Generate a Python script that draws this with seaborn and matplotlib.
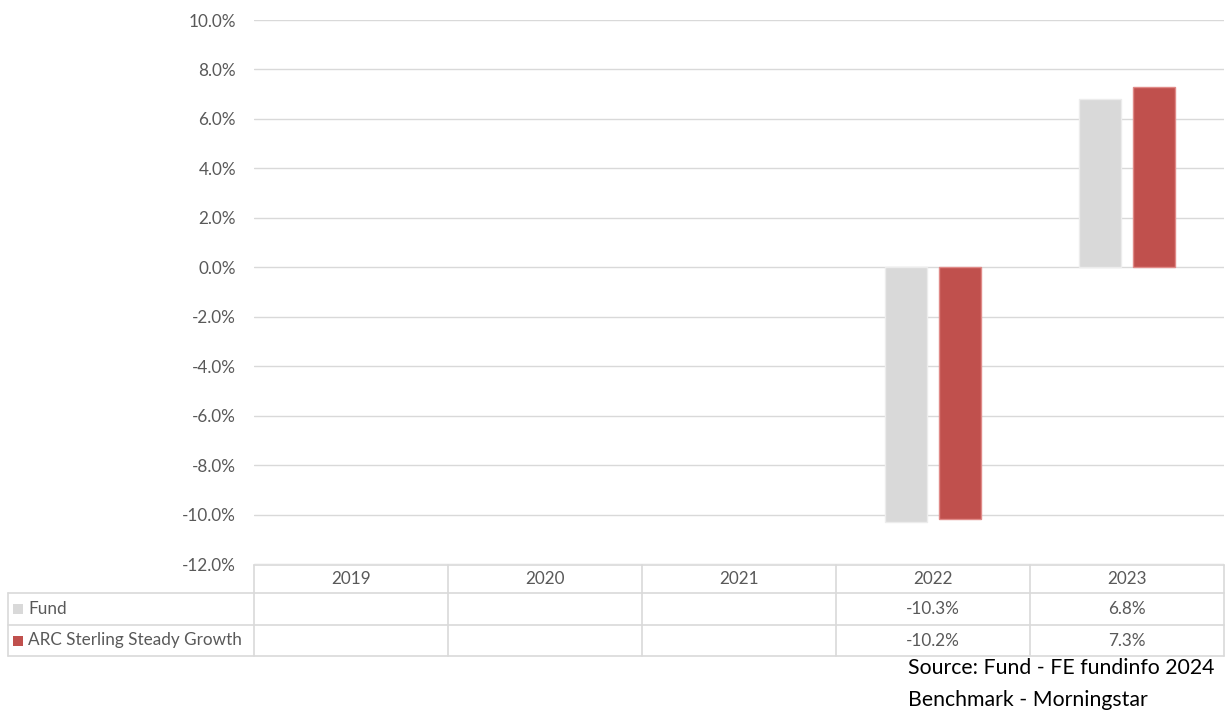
from matplotlib import pyplot as plt
import matplotlib.transforms as mtransforms
import numpy as np
import pandas as pd
import seaborn as sns

years = ['2019', '2020', '2021', '2022', '2023']
series_names = ['Fund', 'ARC Sterling Steady Growth']
fund_returns = [np.nan, np.nan, np.nan, -10.3, 6.8]
benchmark_returns = [np.nan, np.nan, np.nan, -10.2, 7.3]
y_ticks = [-12, -10, -8, -6, -4, -2, 0, 2, 4, 6, 8, 10]
source_lines = ['Source: Fund - FE fundinfo 2024', 'Benchmark - Morningstar']

colors = ['#d9d9d9', '#c0504d']
edge_colors = ['#ececec', '#e08a88']
text_color = '#595959'
grid_color = '#d9d9d9'
fs = 12.3


def main():
    sns.set_style('white')
    plt.rcParams['font.family'] = ['Lato', 'DejaVu Sans']

    df = pd.DataFrame({
        'year': years * 2,
        'series': [series_names[0]] * 5 + [series_names[1]] * 5,
        'value': fund_returns + benchmark_returns,
    })

    W, H = 1225, 715
    fig = plt.figure(figsize=(W / 100, H / 100), dpi=100)
    ax = fig.add_axes([254 / W, 1 - 564 / H, (1224 - 254) / W, (564 - 20) / H])

    sns.barplot(data=df, x='year', y='value', hue='series', order=years,
                hue_order=series_names, palette=colors, saturation=1,
                width=0.56, gap=0.22, ax=ax, legend=False, linewidth=1)
    # lighter outlines like the Excel original
    for cont, ec in zip(ax.containers, edge_colors):
        for bar in cont:
            bar.set_edgecolor(ec)

    ax.set_ylim(-12, 10)
    ax.set_xlim(-0.5, 4.5)
    ax.set_yticks(y_ticks)
    ax.set_yticklabels([f'{t:.1f}%' for t in y_ticks], color=text_color,
                       fontsize=fs)
    ax.tick_params(axis='y', length=0, pad=13)
    ax.set_xticks([])
    ax.set_xlabel('')
    ax.set_ylabel('')
    ax.yaxis.grid(True, color=grid_color, linewidth=1)
    ax.set_axisbelow(True)
    for s in ax.spines.values():
        s.set_visible(False)

    # data table below the plot, x in data units, y in figure pixels
    def fy(py):
        return 1 - py / H

    trans = mtransforms.blended_transform_factory(ax.transData, fig.transFigure)
    ftrans = fig.transFigure
    row_y = [565, 593, 625, 656]
    lw = 1.2

    # horizontal lines
    fig.add_artist(plt.Line2D([-0.5, 4.5], [fy(row_y[0])] * 2, transform=trans,
                              color=grid_color, lw=lw))
    for py in row_y[1:]:
        fig.add_artist(plt.Line2D([8 / W, 1224 / W], [fy(py)] * 2,
                                  transform=ftrans, color=grid_color, lw=lw))
    # vertical lines
    for i in range(len(years) + 1):
        fig.add_artist(plt.Line2D([i - 0.5] * 2, [fy(row_y[0]), fy(row_y[-1])],
                                  transform=trans, color=grid_color, lw=lw))
    fig.add_artist(plt.Line2D([8 / W] * 2, [fy(row_y[1]), fy(row_y[-1])],
                              transform=ftrans, color=grid_color, lw=lw))

    # header
    for i, yr in enumerate(years):
        fig.text(i, fy((row_y[0] + row_y[1]) / 2), yr, transform=trans,
                 ha='center', va='center', color=text_color, fontsize=fs)

    # rows
    for r, (name, vals, col) in enumerate(zip(series_names,
                                              [fund_returns, benchmark_returns],
                                              colors)):
        cy = fy((row_y[r + 1] + row_y[r + 2]) / 2)
        fig.patches.append(plt.Rectangle((13 / W, cy - 5 / H), 10 / W, 10 / H,
                                         transform=ftrans, facecolor=col,
                                         edgecolor='none'))
        fig.text(28 / W, cy, name, ha='left', va='center', color=text_color,
                 fontsize=fs)
        for i, v in enumerate(vals):
            if not np.isnan(v):
                fig.text(i, cy, f'{v:.1f}%', transform=trans, ha='center',
                         va='center', color=text_color, fontsize=fs)

    # source note
    for k, line in enumerate(source_lines):
        fig.text(908 / W, fy(668 + 32 * k), line, ha='left', va='center',
                 color='#000000', fontsize=15.3)

    fig.savefig('out.png', dpi=100)
    plt.close(fig)


if __name__ == "__main__":
    main()
